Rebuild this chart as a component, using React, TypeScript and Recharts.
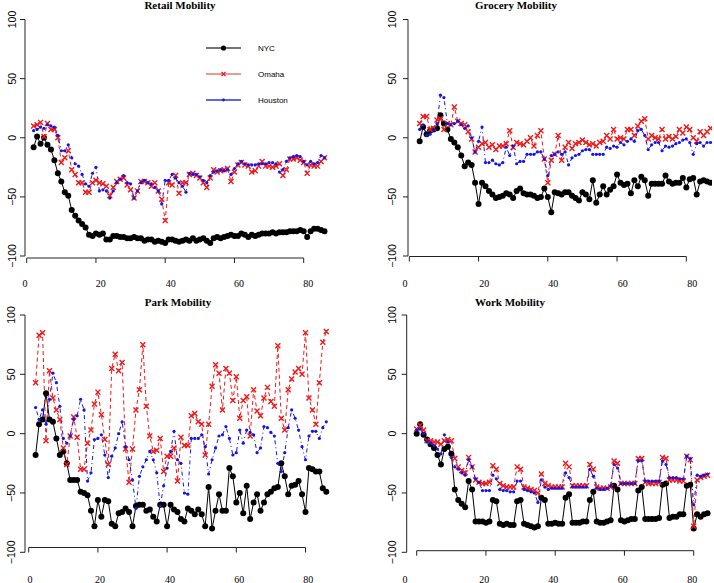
import React from 'react';
import { LineChart, Line, XAxis, YAxis, ReferenceLine } from 'recharts';

const dayIndex = [
  0, 1, 2, 3, 4, 5, 6, 7, 8, 9, 10, 11, 12, 13, 14, 15, 16, 17, 18, 19, 20,
  21, 22, 23, 24, 25, 26, 27, 28, 29, 30, 31, 32, 33, 34, 35, 36, 37, 38, 39, 40,
  41, 42, 43, 44, 45, 46, 47, 48, 49, 50, 51, 52, 53, 54, 55, 56, 57, 58, 59, 60,
  61, 62, 63, 64, 65, 66, 67, 68, 69, 70, 71, 72, 73, 74, 75, 76, 77, 78, 79, 80,
  81, 82, 83, 84,
];

const cities = ['NYC', 'Omaha', 'Houston'];
const xTicks = [0, 20, 40, 60, 80];
const yTicks = [-100, -50, 0, 50, 100];

// retail, days 2..86
const retailNyc = [
  -8, 1, -5, 0, -6, -10, -19, -30, -37, -46,
  -49, -61, -66, -70, -73, -76, -82, -83, -81, -82,
  -81, -86, -86, -83, -83, -84, -84, -85, -85, -84,
  -85, -85, -87, -86, -86, -88, -87, -88, -89, -86,
  -86, -87, -88, -87, -86, -87, -85, -87, -86, -85,
  -87, -89, -85, -84, -85, -84, -83, -82, -83, -83,
  -81, -82, -84, -82, -83, -82, -81, -81, -81, -80,
  -81, -80, -80, -80, -79, -79, -79, -78, -79, -84,
  -79, -77, -77, -78, -79,
];
const retailOmaha = [
  10, 11, 13, 1, 12, 7, 7, 0, -21, -17,
  -11, -27, -31, -38, -38, -46, -46, -38, -36, -38,
  -39, -41, -49, -42, -37, -35, -34, -40, -44, -51,
  -45, -37, -37, -38, -41, -38, -45, -52, -70, -38,
  -40, -32, -47, -38, -38, -31, -30, -32, -34, -38,
  -42, -34, -27, -29, -28, -27, -26, -37, -29, -23,
  -21, -23, -24, -29, -28, -24, -20, -24, -24, -25,
  -24, -22, -32, -27, -18, -18, -17, -19, -21, -30,
  -23, -24, -24, -20, -17,
];
const retailHouston = [
  6, 7, 9, 8, 11, 10, 9, 2, -11, -11,
  -6, -17, -22, -24, -31, -39, -41, -30, -25, -45,
  -44, -45, -51, -45, -38, -35, -32, -38, -39, -51,
  -45, -38, -36, -38, -39, -42, -45, -56, -36, -36,
  -31, -34, -38, -41, -46, -30, -31, -31, -33, -36,
  -38, -32, -29, -28, -27, -28, -27, -31, -26, -22,
  -20, -22, -23, -23, -23, -22, -22, -22, -21, -21,
  -22, -29, -27, -20, -17, -16, -15, -16, -20, -23,
  -20, -22, -21, -15, -17,
];

// grocery, days 3..87
const groceryNyc = [
  -3, 9, 3, 6, 7, 8, 19, 12, 7, -1,
  -4, -8, -15, -24, -21, -23, -38, -56, -38, -41,
  -45, -48, -51, -50, -49, -47, -48, -51, -45, -43,
  -47, -48, -48, -49, -51, -50, -43, -50, -63, -46,
  -47, -48, -46, -46, -49, -51, -53, -46, -48, -52,
  -36, -55, -48, -41, -48, -44, -41, -31, -38, -40,
  -39, -47, -36, -41, -33, -36, -49, -39, -39, -39,
  -39, -32, -37, -39, -38, -38, -34, -42, -35, -34,
  -48, -37, -36, -37, -38,
];
const groceryOmaha = [
  12, 18, 18, 7, 8, 15, 16, 7, 12, 11,
  26, 14, 12, 11, 5, -1, -12, -8, -5, -4,
  -8, -6, -10, -7, -7, -5, 6, -8, -4, -5,
  -6, -3, 0, -7, 2, 6, -18, -38, -19, -14,
  2, -19, -8, -4, -9, -5, -4, -2, -4, -6,
  -5, -7, -4, -3, 2, -1, 7, -1, 0, -1,
  7, 7, 2, 10, 14, 16, -1, 2, 0, -1,
  7, -1, 1, -1, 1, 7, 4, 9, 7, 0,
  -3, 5, 2, 5, 8,
];
const groceryHouston = [
  7, 11, 2, 3, 7, 12, 36, 34, 12, 11,
  12, 14, 11, 8, 10, 0, -12, -3, 9, -21,
  -21, -19, -22, -23, -21, -8, -15, -7, -22, -20,
  -20, -14, -14, -14, -12, -12, -18, -32, -15, -14,
  -12, -14, -12, -23, -17, -15, -14, -11, -10, -10,
  -14, -14, -14, -14, -8, -9, -7, -8, -4, -6,
  -3, -1, -3, 6, 7, 2, -10, -6, -4, -4,
  -11, -7, -8, -7, -5, -4, -2, -1, -4, -14,
  -5, -4, -7, -4, -4,
];

// park, days 2..86
const parkNyc = [
  -18, 8, 12, 34, 12, 10, -4, -18, -15, -25,
  -39, -39, -39, -49, -50, -52, -65, -78, -56, -70,
  -56, -57, -76, -78, -67, -66, -63, -66, -78, -61,
  -60, -60, -65, -64, -70, -74, -60, -60, -78, -60,
  -64, -66, -72, -74, -63, -65, -68, -64, -68, -78,
  -45, -80, -65, -51, -65, -65, -29, -36, -58, -50,
  -67, -44, -72, -58, -51, -65, -58, -51, -49, -46,
  -45, -25, -36, -51, -44, -43, -40, -51, -66, -29,
  -30, -32, -32, -46, -49,
];
const parkOmaha = [
  43, 83, 85, -6, 53, 30, 20, 12, -12, -26,
  -2, 14, -3, -30, -30, -8, 3, 25, 35, 16,
  -5, -26, 55, 67, 53, 60, -13, -41, -13, 20,
  37, 75, 23, -2, -15, -14, -4, -32, -19, -19,
  -12, -40, -3, -10, -10, 15, 17, 10, 8, -18,
  8, 40, 58, 51, 20, 55, 51, 28, 48, 13,
  28, 31, -2, 37, 19, 15, 30, 39, 27, 23,
  74, 13, 3, 37, 46, 52, 55, 50, 85, 30,
  20, 8, 43, 77, 86,
];
const parkHouston = [
  22, 12, 20, 8, 29, 51, 43, 23, -4, -8,
  -2, 12, 15, 29, 20, -40, -33, -5, -4, -1,
  -18, -37, -19, -12, 0, 10, -11, -22, -39, -63,
  -36, -28, -22, -15, -22, -33, -61, -44, -29, -15,
  2, -22, -25, -50, -51, -4, -4, -4, -1, -11,
  -34, -22, -12, -2, -1, 6, -4, -18, -16, 3,
  -8, 3, 1, -1, -16, -12, 6, 5, 1, -2,
  -25, -32, -16, 5, 20, 13, 3, -11, -22, -2,
  2, 2, -4, 5, 10,
];

// work, days 0..84
const workNyc = [
  0, 8, -1, -5, -9, -12, -18, -26, -13, -11,
  -17, -47, -56, -59, -62, -40, -47, -74, -74, -74,
  -75, -74, -56, -57, -76, -77, -76, -77, -77, -57,
  -56, -76, -77, -78, -79, -78, -54, -56, -76, -76,
  -75, -76, -76, -54, -51, -75, -75, -75, -74, -74,
  -56, -49, -74, -75, -75, -74, -73, -44, -47, -73,
  -74, -73, -72, -72, -48, -45, -72, -72, -72, -72,
  -71, -43, -42, -71, -70, -70, -68, -68, -44, -43,
  -80, -68, -70, -68, -67,
];
const workOmaha = [
  4, 7, 3, -6, -6, -7, -7, -9, -6, -5,
  -6, -21, -28, -31, -33, -20, -28, -39, -41, -42,
  -42, -41, -27, -30, -42, -44, -45, -45, -45, -28,
  -30, -45, -46, -47, -48, -50, -34, -42, -44, -45,
  -45, -45, -45, -25, -28, -44, -44, -44, -44, -44,
  -26, -30, -45, -46, -46, -46, -45, -23, -25, -42,
  -42, -42, -42, -42, -21, -21, -41, -42, -42, -42,
  -41, -20, -21, -39, -39, -39, -40, -40, -19, -22,
  -78, -39, -37, -36, -35,
];
const workHouston = [
  3, 4, 0, -7, -8, -10, -13, -17, -1, -7,
  -20, -28, -30, -33, -35, -22, -28, -38, -41, -48,
  -48, -48, -35, -38, -47, -48, -48, -49, -49, -40,
  -40, -47, -48, -49, -50, -58, -39, -45, -47, -46,
  -46, -46, -46, -33, -37, -45, -45, -45, -45, -45,
  -30, -36, -46, -47, -47, -46, -44, -26, -29, -42,
  -42, -42, -42, -42, -23, -23, -40, -40, -40, -40,
  -40, -23, -26, -37, -37, -37, -38, -38, -19, -21,
  -60, -35, -36, -35, -34,
];

const BLACK = '#000000';
const RED = '#f01818';
const BLUE = '#1414e6';
const W = 714;
const H = 583;

type Box = {
  x0: number; sx: number; axisX: number; right: number;
  y100: number; sy: number; axisY: number;
  labelX: number[]; labelY: number; yLabelX: number;
  titleX: number; titleY: number;
};

type PanelDef = { title: string; start: number; series: number[][]; box: Box };

const panels: PanelDef[] = [
  {
    title: 'Retail Mobility', start: 2, series: [retailNyc, retailOmaha, retailHouston],
    box: { x0: 26.7, sx: 3.4625, axisX: 25, right: 335, y100: 19.5, sy: 1.1825, axisY: 258,
      labelX: [25, 100.7, 170.7, 239, 308.3], labelY: 283, yLabelX: 11.5, titleX: 180, titleY: 5 },
  },
  {
    title: 'Grocery Mobility', start: 3, series: [groceryNyc, groceryOmaha, groceryHouston],
    box: { x0: 409.3, sx: 3.4625, axisX: 408, right: 712, y100: 19.5, sy: 1.1825, axisY: 256.5,
      labelX: [405, 484.3, 553.3, 622.7, 692.3], labelY: 283, yLabelX: 391.5, titleX: 516, titleY: 5 },
  },
  {
    title: 'Park Mobility', start: 2, series: [parkNyc, parkOmaha, parkHouston],
    box: { x0: 28.7, sx: 3.46, axisX: 25, right: 335, y100: 315, sy: 1.1865, axisY: 547.5,
      labelX: [30, 100, 170, 239.3, 308.3], labelY: 579, yLabelX: 10.5, titleX: 178, titleY: 301.5 },
  },
  {
    title: 'Work Mobility', start: 0, series: [workNyc, workOmaha, workHouston],
    box: { x0: 416.7, sx: 3.4625, axisX: 406.7, right: 712, y100: 315, sy: 1.1865, axisY: 550.7,
      labelX: [405, 484.3, 553.3, 622.7, 692.3], labelY: 579, yLabelX: 391.5, titleX: 510, titleY: 301.5 },
  },
];

const renderCross = (props: any) => {
  const { cx, cy, index } = props;
  if (cx == null || cy == null) return <g key={`c-${index}`} />;
  const s = 2.5;
  return (
    <path
      key={`c-${index}`}
      d={`M${cx - s},${cy - s}L${cx + s},${cy + s}M${cx - s},${cy + s}L${cx + s},${cy - s}`}
      stroke={RED}
      strokeWidth={1.4}
      fill="none"
    />
  );
};

function Panel({ p }: { p: PanelDef }) {
  const b = p.box;
  const top = b.y100 - 2;
  const bottom = Math.max(b.y100 + 200 * b.sy, b.axisY);
  const xMin = (b.axisX - b.x0) / b.sx;
  const xMax = (b.right - b.x0) / b.sx;
  const yMax = 100 + (b.y100 - top) / b.sy;
  const yMin = 100 - (bottom - b.y100) / b.sy;
  const axisVal = 100 - (b.axisY - b.y100) / b.sy;

  const rows = dayIndex.map((d, i) => ({
    day: d + p.start,
    nyc: p.series[0][i],
    omaha: p.series[1][i],
    houston: p.series[2][i],
  }));

  const xTick = (props: any) => {
    const { x, payload, index } = props;
    return (
      <g key={`xt-${index}`}>
        <line x1={x} x2={x} y1={b.axisY} y2={b.axisY + 5} stroke="#222" strokeWidth={1} />
        <text x={b.labelX[index]} y={b.labelY} textAnchor="middle" dominantBaseline="central"
          fontFamily="'Liberation Serif', serif" fontSize={10} fill="#000">
          {payload.value}
        </text>
      </g>
    );
  };

  const yTick = (props: any) => {
    const { y, payload, index } = props;
    const v = payload.value as number;
    const label = v < 0 ? `\u2212${Math.abs(v)}` : `${v}`;
    return (
      <g key={`yt-${index}`}>
        <line x1={b.axisX - 5} x2={b.axisX} y1={y} y2={y} stroke="#222" strokeWidth={1} />
        <text transform={`translate(${b.yLabelX},${y}) rotate(-90)`} textAnchor="middle"
          dominantBaseline="central" fontFamily="'Liberation Sans', Arial, sans-serif"
          fontSize={10.5} fill="#000">
          {label}
        </text>
      </g>
    );
  };

  return (
    <div style={{ position: 'absolute', left: 0, top: 0 }}>
      <LineChart
        width={W}
        height={H}
        data={rows}
        margin={{ left: b.axisX - 1, top, right: W - b.right, bottom: H - bottom - 1 }}
      >
        <XAxis type="number" dataKey="day" domain={[xMin, xMax]} allowDataOverflow ticks={xTicks}
          interval={0} height={1} axisLine={false} tickLine={false} tickSize={0} tick={xTick} />
        <YAxis type="number" domain={[yMin, yMax]} allowDataOverflow ticks={yTicks}
          interval={0} width={1} axisLine={false} tickLine={false} tickSize={0} tick={yTick} />
        <ReferenceLine segment={[{ x: 0, y: axisVal }, { x: 80, y: axisVal }]}
          stroke="#222" strokeWidth={1} ifOverflow="visible" />
        <ReferenceLine segment={[{ x: xMin, y: -100 }, { x: xMin, y: 100 }]}
          stroke="#222" strokeWidth={1} ifOverflow="visible" />
        <Line dataKey="nyc" name={cities[0]} stroke={BLACK} strokeWidth={1}
          dot={{ r: 3, fill: BLACK, stroke: BLACK, strokeWidth: 0 }} activeDot={false}
          isAnimationActive={false} />
        <Line dataKey="omaha" name={cities[1]} stroke={RED} strokeWidth={1} strokeDasharray="4 3"
          dot={renderCross} activeDot={false} isAnimationActive={false} />
        <Line dataKey="houston" name={cities[2]} stroke={BLUE} strokeWidth={1}
          strokeDasharray="1 3 4 3" dot={{ r: 1.6, fill: BLUE, stroke: 'none' }} activeDot={false}
          isAnimationActive={false} />
      </LineChart>
    </div>
  );
}

function Overlay() {
  const serif = "'Liberation Serif', serif";
  const sans = "'Liberation Sans', Arial, sans-serif";
  return (
    <svg width={W} height={H} style={{ position: 'absolute', left: 0, top: 0, pointerEvents: 'none' }}>
      {panels.map((p) => (
        <text key={p.title} x={p.box.titleX} y={p.box.titleY} textAnchor="middle" dominantBaseline="central"
          fontFamily={serif} fontWeight="bold" fontSize={11} fill="#000">
          {p.title}
        </text>
      ))}
      {/* legend */}
      <line x1={206} x2={241} y1={48} y2={48} stroke="#444" strokeWidth={1.5} />
      <circle cx={223.5} cy={48} r={2.6} fill={BLACK} />
      <text x={258} y={48} dominantBaseline="central" fontFamily={sans} fontSize={8}>{cities[0]}</text>
      <line x1={206} x2={241} y1={74} y2={74} stroke="#e87474" strokeWidth={1.5} />
      <path d="M221.5,72L225.5,76M221.5,76L225.5,72" stroke={RED} strokeWidth={1.2} />
      <text x={258} y={74} dominantBaseline="central" fontFamily={sans} fontSize={8}>{cities[1]}</text>
      <line x1={206} x2={241} y1={100} y2={100} stroke="#3030d8" strokeWidth={1.5} />
      <circle cx={223.5} cy={100} r={1.4} fill={BLUE} />
      <text x={258} y={100} dominantBaseline="central" fontFamily={sans} fontSize={8}>{cities[2]}</text>
    </svg>
  );
}

export default function App() {
  return (
    <div style={{ position: 'absolute', left: 0, top: 0, width: W, height: H, background: '#fff' }}>
      {panels.map((p) => (
        <Panel key={p.title} p={p} />
      ))}
      <Overlay />
    </div>
  );
}
